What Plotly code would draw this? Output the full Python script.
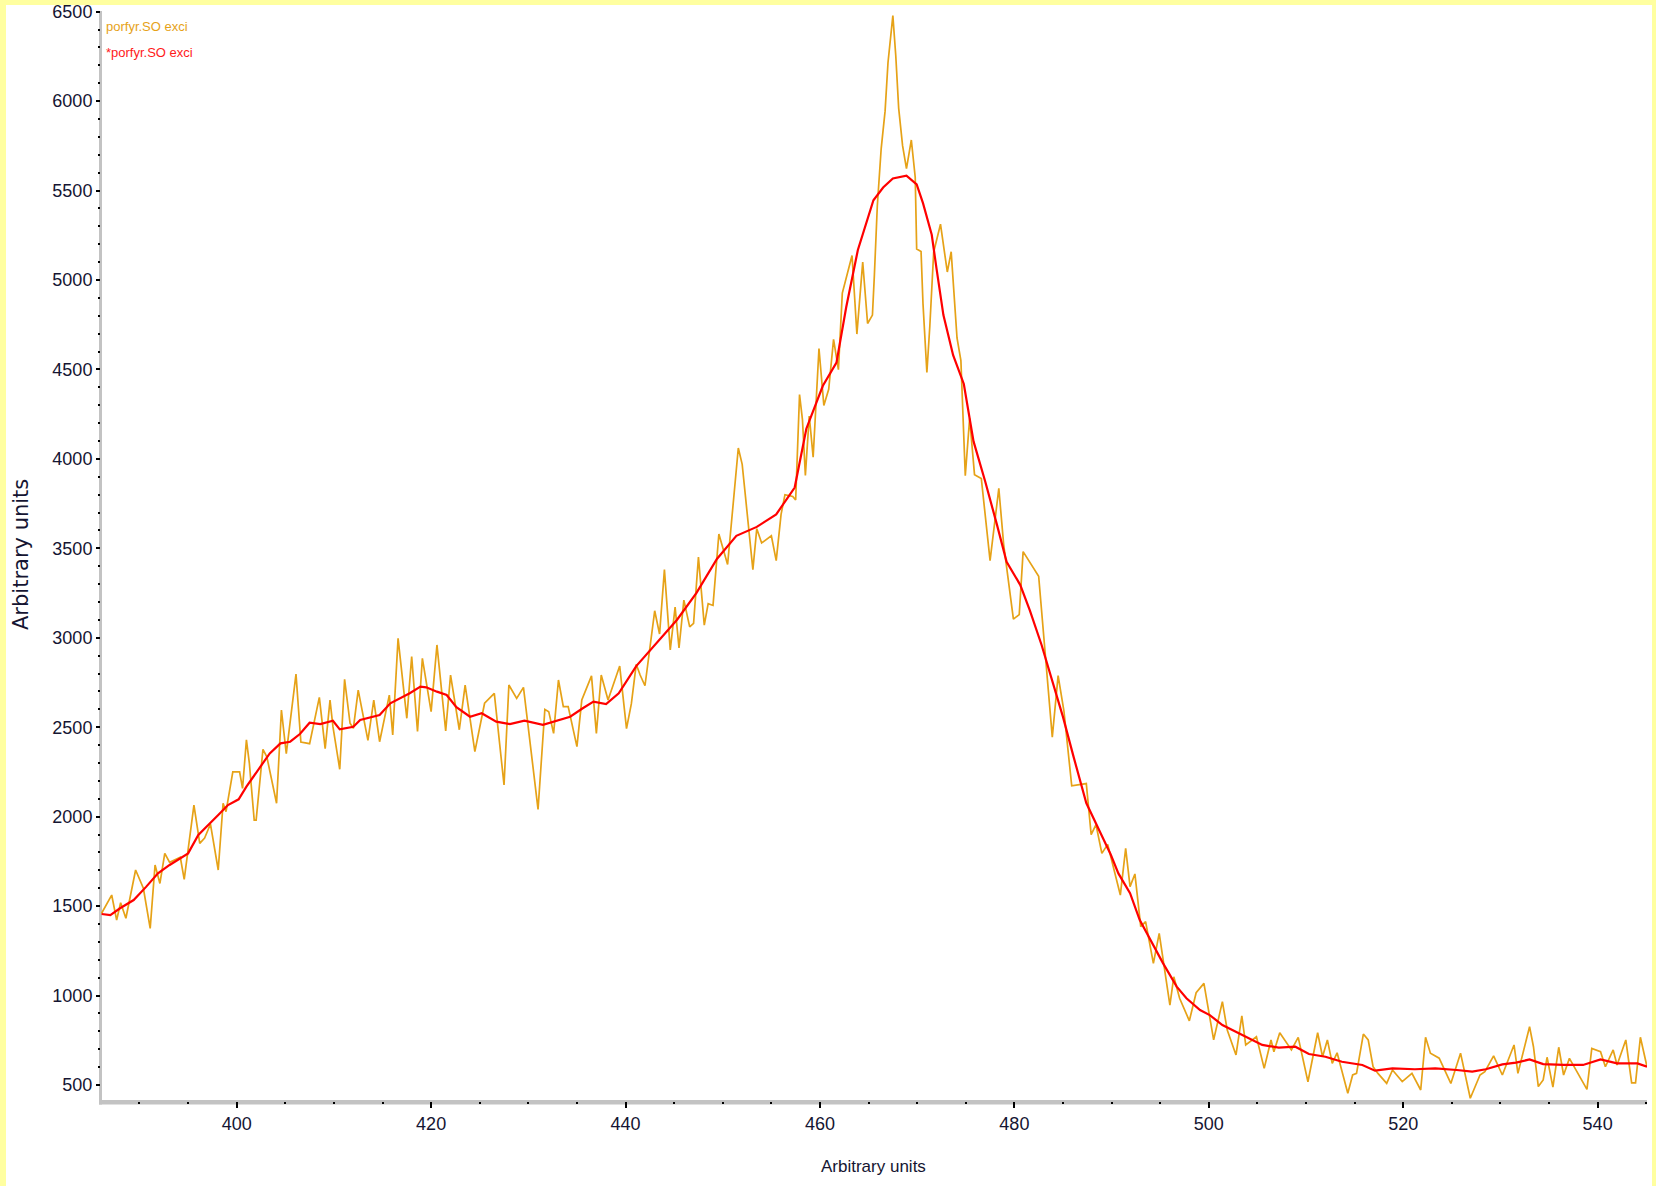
import plotly.graph_objects as go

# Excitation spectrum "porfyr.SO exci": raw trace (turning points) and smoothed trace
raw_x = [386.1, 387.14, 387.65, 388.06, 388.6, 389.6, 390.4, 391.1, 391.6, 392.1, 392.6, 393.1, 394.2, 394.6,
         395.6, 396.2, 396.7, 397.3, 398.1, 398.6, 398.9, 399.6, 400.3, 400.6, 401.0, 401.3, 401.8, 402.0,
         402.7, 403.1, 404.1, 404.6, 405.1, 406.1, 406.6, 407.5, 408.5, 409.1, 409.6, 409.9, 410.6, 411.1,
         411.66, 412.0, 412.5, 413.5, 414.1, 414.7, 415.7, 416.05, 416.6, 417.5, 418.0, 418.6, 419.1, 420.0,
         420.6, 421.5, 422.0, 422.9, 423.5, 424.5, 425.5, 426.5, 427.5, 428.0, 428.8, 429.5, 431.0, 431.7,
         432.1, 432.6, 433.1, 433.6, 434.1, 435.0, 435.5, 436.5, 437.0, 437.5, 438.2, 439.4, 440.1, 440.6,
         441.1, 441.5, 442.0, 442.5, 443.0, 443.5, 444.0, 444.6, 445.1, 445.5, 446.0, 446.6, 447.0, 447.5,
         448.1, 448.5, 449.0, 449.6, 450.5, 451.6, 452.0, 452.3, 453.1, 453.5, 454.0, 455.0, 455.5, 456.0,
         456.4, 457.2, 457.5, 457.9, 458.2, 458.5, 458.9, 459.3, 459.9, 460.4, 460.9, 461.4, 461.9, 462.3,
         463.3, 463.8, 464.4, 464.9, 465.4, 465.6, 465.9, 466.3, 466.7, 467.0, 467.5, 467.8, 468.1, 468.5,
         468.9, 469.4, 469.8, 469.95, 470.4, 470.6, 471.0, 471.3, 471.7, 472.4, 472.7, 473.1, 473.5, 474.1,
         474.5, 474.95, 475.4, 475.9, 476.6, 477.5, 478.4, 478.9, 479.9, 480.5, 480.9, 482.5, 483.9, 484.5,
         485.1, 485.9, 487.4, 487.9, 488.4, 489.0, 489.6, 490.9, 491.45, 491.9, 492.4, 493.0, 493.5, 494.3,
         494.9, 496.0, 496.4, 497.0, 498.0, 498.7, 499.5, 500.5, 501.4, 501.9, 502.8, 503.4, 503.8, 504.9,
         505.7, 506.4, 506.7, 507.3, 508.5, 509.2, 510.2, 511.2, 511.7, 512.2, 512.7, 513.2, 514.3, 514.8,
         515.2, 515.9, 516.4, 516.9, 517.4, 518.3, 518.9, 519.9, 520.9, 521.8, 522.3, 522.8, 523.7, 524.9,
         525.9, 526.9, 527.9, 528.4, 529.3, 530.2, 531.4, 531.8, 533.0, 533.4, 533.9, 534.4, 534.8, 535.4,
         536.0, 536.5, 537.1, 538.9, 539.4, 540.3, 540.8, 541.6, 542.0, 542.9, 543.5, 543.9, 544.4, 545.08]
raw_y = [1460, 1562, 1422, 1519, 1432, 1702, 1600, 1376, 1730, 1627, 1795, 1745, 1773, 1650,
         2065, 1851, 1880, 1959, 1702, 2075, 2028, 2251, 2251, 2158, 2429, 2300, 1981, 1981,
         2376, 2335, 2075, 2596, 2352, 2797, 2417, 2408, 2667, 2380, 2652, 2503, 2265, 2768,
         2522, 2494, 2708, 2427, 2652, 2419, 2680, 2457, 2997, 2550, 2895, 2476, 2885, 2587,
         2960, 2480, 2792, 2486, 2736, 2364, 2634, 2689, 2177, 2736, 2661, 2723, 2041, 2600,
         2587, 2466, 2764, 2615, 2615, 2392, 2652, 2787, 2466, 2792, 2652, 2842, 2492, 2632,
         2852, 2792, 2732, 2952, 3151, 3021, 3381, 2932, 3172, 2943, 3211, 3061, 3081, 3451,
         3071, 3191, 3181, 3580, 3410, 4061, 3970, 3810, 3381, 3610, 3530, 3570, 3431, 3690,
         3800, 3790, 3770, 4360, 4220, 3908, 4240, 4010, 4617, 4299, 4389, 4668, 4499, 4927,
         5137, 4698, 5100, 4757, 4804, 5029, 5414, 5735, 5944, 6216, 6478, 6254, 5960, 5751,
         5623, 5783, 5575, 5173, 5160, 4868, 4483, 4740, 5157, 5312, 5190, 5045, 5158, 4676,
         4549, 3906, 4227, 3912, 3890, 3431, 3835, 3521, 3104, 3130, 3482, 3344, 2445, 2789,
         2590, 2173, 2185, 1900, 1955, 1795, 1845, 1562, 1823, 1609, 1680, 1385, 1413, 1180,
         1348, 947, 1105, 985, 859, 1016, 1068, 752, 966, 807, 668, 886, 724, 770,
         593, 752, 686, 792, 696, 766, 518, 792, 658, 752, 621, 680, 454, 556,
         565, 785, 752, 602, 565, 509, 584, 519, 565, 472, 767, 678, 650, 509,
         678, 426, 556, 575, 663, 556, 724, 565, 826, 714, 491, 528, 655, 488,
         711, 556, 649, 476, 705, 686, 602, 696, 612, 752, 512, 512, 767, 602]

smooth_x = [386.1, 387.0, 388.0, 389.4, 390.7, 391.9, 393.1, 394.2, 395.0, 396.05, 397.3, 398.1, 399.1,
            400.2, 401.0, 402.1, 403.4, 404.5, 405.5, 406.5, 407.5, 408.6, 409.9, 410.6, 412.0, 412.7,
            414.7, 415.8, 416.8, 417.8, 418.9, 419.5, 420.6, 421.6, 422.6, 424.0, 425.2, 426.7, 428.1,
            429.6, 431.5, 432.9, 434.3, 435.6, 436.7, 438.0, 439.3, 441.1, 443.2, 445.3, 447.3, 449.4,
            451.4, 453.5, 455.5, 457.4, 458.6, 460.3, 461.7, 462.7, 463.9, 464.8, 465.5, 466.5, 467.5,
            468.9, 469.95, 470.6, 471.5, 472.0, 472.7, 473.7, 474.8, 475.8, 477.0, 478.2, 479.2, 480.6,
            481.6, 482.8, 484.0, 485.0, 486.1, 487.4, 488.8, 489.9, 490.7, 491.9, 492.9, 494.0, 495.3,
            496.7, 497.7, 499.1, 500.1, 501.4, 502.8, 504.2, 505.5, 507.2, 508.9, 510.3, 512.0, 513.7,
            515.8, 517.1, 518.9, 521.2, 523.3, 525.5, 527.1, 528.5, 530.2, 531.6, 533.0, 534.4, 536.5,
            538.5, 540.3, 542.0, 544.1, 545.08]
smooth_y = [1456, 1450, 1488, 1534, 1609, 1683, 1730, 1767, 1795, 1898, 1963, 2009, 2065,
            2097, 2168, 2251, 2354, 2410, 2419, 2462, 2525, 2518, 2536, 2488, 2503, 2541,
            2568, 2634, 2661, 2690, 2727, 2723, 2699, 2680, 2612, 2559, 2578, 2531, 2518,
            2537, 2513, 2537, 2559, 2606, 2643, 2630, 2690, 2842, 2971, 3101, 3251, 3441,
            3570, 3620, 3690, 3840, 4169, 4409, 4538, 4848, 5168, 5319, 5446, 5517, 5568,
            5584, 5535, 5430, 5253, 5061, 4804, 4580, 4419, 4098, 3874, 3634, 3425, 3296,
            3152, 2960, 2734, 2558, 2333, 2076, 1916, 1790, 1683, 1572, 1422, 1311, 1180,
            1050, 985, 919, 891, 835, 798, 761, 724, 709, 714, 673, 658, 630,
            612, 580, 593, 588, 593, 584, 575, 588, 615, 625, 643, 617, 612,
            612, 643, 621, 621, 602]

x_ticks = [400, 420, 440, 460, 480, 500, 520, 540]
y_ticks = [500, 1000, 1500, 2000, 2500, 3000, 3500, 4000, 4500, 5000, 5500, 6000, 6500]

ORANGE = "#E6A217"
RED = "#FF0000"
FRAME = "#FFFFA0"
AXIS_GREY = "#C3C3C3"
TEXT = "#151532"
SANS = "Liberation Sans, Arial, sans-serif"

W, H = 1656, 1186
L, R, T, B = 101, 9, 11, 85
pw, ph = W - L - R, H - T - B


def px_x(p):
    return (p - L) / pw


def px_y(p):
    return (H - B - p) / ph


fig = go.Figure()
fig.add_trace(go.Scatter(x=raw_x, y=raw_y, mode="lines", name="porfyr.SO exci",
                         line=dict(color=ORANGE, width=1.7)))
fig.add_trace(go.Scatter(x=smooth_x, y=smooth_y, mode="lines", name="*porfyr.SO exci",
                         line=dict(color=RED, width=2.2)))

axis_common = dict(showgrid=False, zeroline=False, showline=False, automargin=False,
                   ticks="outside", tickwidth=2, tickcolor="black",
                   tickfont=dict(family=SANS, size=18, color=TEXT))

fig.update_xaxes(range=[386.04, 545.08], tickvals=x_ticks, ticklen=6,
                 minor=dict(dtick=5, tick0=400, ticks="outside", ticklen=2, tickwidth=2, tickcolor="black"),
                 **axis_common)
fig.update_yaxes(range=[410.6, 6504.0], tickvals=y_ticks, ticklen=4,
                 minor=dict(dtick=100, tick0=500, ticks="outside", ticklen=2, tickwidth=2, tickcolor="black"),
                 **axis_common)


def rect(x0, y0, x1, y1, color, layer):
    return dict(type="rect", xref="paper", yref="paper",
                x0=px_x(x0), x1=px_x(x1), y0=px_y(y1), y1=px_y(y0),
                fillcolor=color, line=dict(width=0), layer=layer)


shapes = [
    # thick grey axis bars, ticks sit on top of them
    rect(99, 11, 102, 1104.5, AXIS_GREY, "below"),
    rect(99, 1100, 1647, 1104.5, AXIS_GREY, "below"),
    # pale yellow window frame on the left, top and right edges
    rect(0, 0, 6, H, FRAME, "above"),
    rect(0, 0, W, 5, FRAME, "above"),
    rect(W - 4, 0, W, H, FRAME, "above"),
]

annotations = [
    dict(text="porfyr.SO exci", x=px_x(104), y=px_y(26.5), xanchor="left", yanchor="middle",
         font=dict(family=SANS, size=13, color=ORANGE)),
    dict(text="*porfyr.SO exci", x=px_x(104), y=px_y(53), xanchor="left", yanchor="middle",
         font=dict(family=SANS, size=13, color="#FF1A1A")),
    dict(text="Arbitrary units", x=px_x(873), y=px_y(1166), xanchor="center", yanchor="middle",
         font=dict(family=SANS, size=17, color=TEXT)),
    dict(text="Arbitrary units", x=px_x(21), y=px_y(555), xanchor="center", yanchor="middle",
         textangle=-90, font=dict(family="DejaVu Sans, sans-serif", size=21, color=TEXT)),
]
for a in annotations:
    a.update(xref="paper", yref="paper", showarrow=False)

fig.update_layout(width=W, height=H, margin=dict(l=L, r=R, t=T, b=B, autoexpand=False),
                  paper_bgcolor="white", plot_bgcolor="rgba(0,0,0,0)", showlegend=False,
                  shapes=shapes, annotations=annotations)

fig.write_html("out.html")
